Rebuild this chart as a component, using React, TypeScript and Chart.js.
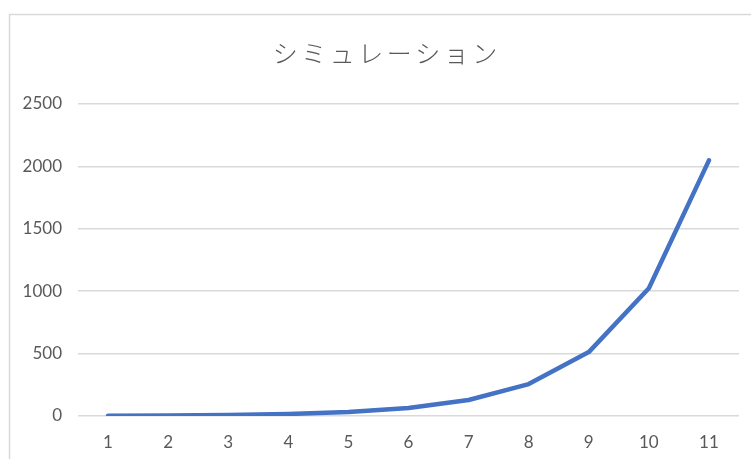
import React, { useEffect, useRef } from "react";
import { Chart, registerables } from "chart.js";

Chart.register(...registerables);

const TITLE = "シミュレーション";
const categories = ["1", "2", "3", "4", "5", "6", "7", "8", "9", "10", "11"];
const values = [2, 4, 8, 16, 32, 64, 128, 256, 512, 1024, 2048];
const yMax = 2500;
const yStep = 500;

const LABEL_FONT = "Lato, 'Open Sans', sans-serif";
const TEXT_COLOR = "#595959";
const GRID_COLOR = "#d9d9d9";
const LINE_COLOR = "#4472C4";
const TITLE_SPACING = 3.5;

// Chart frame (top and left edges) plus the spaced-out title
const framePlugin = {
  id: "frameAndTitle",
  beforeDraw(chart: Chart) {
    const ctx = chart.ctx;
    ctx.save();
    ctx.fillStyle = "#ffffff";
    ctx.fillRect(0, 0, chart.width, chart.height);
    ctx.strokeStyle = GRID_COLOR;
    ctx.lineWidth = 1.5;
    ctx.beginPath();
    ctx.moveTo(9.5, chart.height + 2);
    ctx.lineTo(9.5, 14.5);
    ctx.lineTo(chart.width + 2, 14.5);
    ctx.stroke();

    ctx.fillStyle = TEXT_COLOR;
    ctx.font = "300 25px 'Noto Sans CJK JP', sans-serif";
    (ctx as any).letterSpacing = `${TITLE_SPACING}px`;
    ctx.textAlign = "left";
    ctx.textBaseline = "middle";
    const w = ctx.measureText(TITLE).width - TITLE_SPACING;
    ctx.fillText(TITLE, 385 - w / 2, 53);
    ctx.restore();
  },
};

export default function App() {
  const ref = useRef<HTMLCanvasElement | null>(null);

  useEffect(() => {
    if (!ref.current) return;
    const chart = new Chart(ref.current, {
      type: "line",
      data: {
        labels: categories,
        datasets: [
          {
            data: values,
            borderColor: LINE_COLOR,
            backgroundColor: LINE_COLOR,
            borderWidth: 4.5,
            pointRadius: 0,
            tension: 0,
            borderCapStyle: "round",
            borderJoinStyle: "round",
          },
        ],
      },
      options: {
        animation: false,
        responsive: false,
        maintainAspectRatio: false,
        layout: { padding: { left: 0, right: 12, top: 104, bottom: 0 } },
        plugins: {
          legend: { display: false },
          title: { display: false },
          tooltip: { enabled: false },
        },
        scales: {
          x: {
            offset: true,
            grid: { display: false, drawTicks: false },
            border: { display: false },
            ticks: {
              color: TEXT_COLOR,
              font: { family: LABEL_FONT, size: 17 },
              padding: 16,
              maxRotation: 0,
            },
            afterFit(scale: any) {
              scale.height = 43;
            },
          },
          y: {
            min: 0,
            max: yMax,
            grid: { color: GRID_COLOR, lineWidth: 1.5, drawTicks: false },
            border: { display: false },
            ticks: {
              stepSize: yStep,
              color: TEXT_COLOR,
              font: { family: LABEL_FONT, size: 17 },
              padding: 16,
              callback: (v: any) => String(v),
            },
            afterFit(scale: any) {
              scale.width = 78;
            },
          },
        },
      },
      plugins: [framePlugin],
    });
    return () => chart.destroy();
  }, []);

  return (
    <div style={{ position: "fixed", left: 0, top: 0, width: 751, height: 459, background: "#fff" }}>
      <canvas ref={ref} width={751} height={459} style={{ display: "block" }} />
    </div>
  );
}
